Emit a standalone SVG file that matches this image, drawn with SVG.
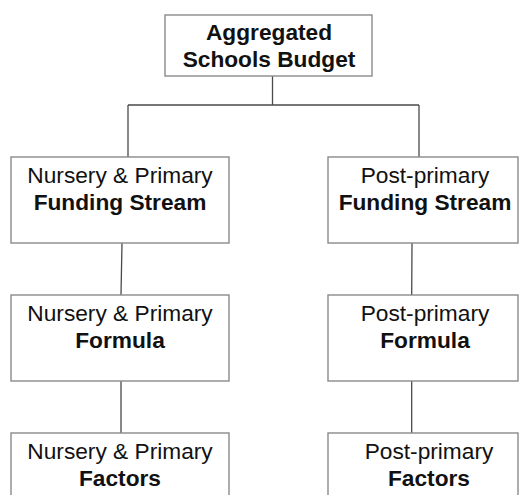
<svg xmlns="http://www.w3.org/2000/svg" width="520" height="495" viewBox="0 0 520 495">
<style>
.box{fill:#fff;stroke:#8a8a8a;stroke-width:1.4}
.t{font-family:"Liberation Sans",Arial,sans-serif;font-size:22.7px;fill:#111;text-anchor:middle}
.b{font-weight:bold}
.c{fill:none;stroke:#4a4a4a;stroke-width:1.3}
</style>
<rect width="520" height="495" fill="#fff"/>
<g id="connectors">
<path class="c" d="M272.5 76V105M128 105H419M128 105V157M419 105V157"/>
<path class="c" d="M122 243L121 295M121 381V433"/>
<path class="c" d="M412 243L411.7 295M411.7 381V433"/>
</g>
<g id="asb">
<rect class="box" x="165" y="15" width="207" height="61"/>
<text class="t b" x="269" y="40">Aggregated</text>
<text class="t b" x="269" y="67">Schools Budget</text>
</g>
<g id="np-stream">
<rect class="box" x="11" y="157" width="218" height="86"/>
<text class="t" x="120" y="183">Nursery &amp; Primary</text>
<text class="t b" x="120" y="210">Funding Stream</text>
</g>
<g id="np-formula">
<rect class="box" x="11" y="295" width="218" height="86"/>
<text class="t" x="120" y="321">Nursery &amp; Primary</text>
<text class="t b" x="120" y="348">Formula</text>
</g>
<g id="np-factors">
<rect class="box" x="11" y="433" width="218" height="86"/>
<text class="t" x="120" y="459">Nursery &amp; Primary</text>
<text class="t b" x="120" y="486">Factors</text>
</g>
<g id="pp-stream">
<rect class="box" x="328" y="157" width="190" height="86"/>
<text class="t" x="425" y="183">Post-primary</text>
<text class="t b" x="425" y="210">Funding Stream</text>
</g>
<g id="pp-formula">
<rect class="box" x="328" y="295" width="190" height="86"/>
<text class="t" x="425" y="321">Post-primary</text>
<text class="t b" x="425" y="348">Formula</text>
</g>
<g id="pp-factors">
<rect class="box" x="328" y="433" width="190" height="86"/>
<text class="t" x="429" y="459">Post-primary</text>
<text class="t b" x="429" y="486">Factors</text>
</g>
</svg>
